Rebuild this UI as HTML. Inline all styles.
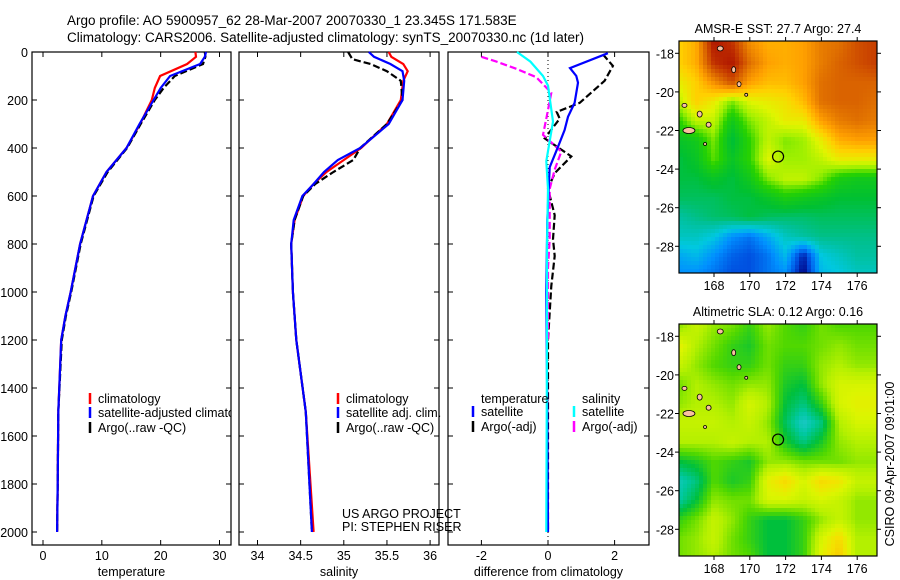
<!DOCTYPE html>
<html><head><meta charset="utf-8"><style>
body{margin:0;background:#fff;}
svg{display:block;font-family:"Liberation Sans",sans-serif;}
text{fill:#000;}
</style></head><body>
<svg id="fig" width="900" height="580" viewBox="0 0 900 580">
<defs><clipPath id="p1clip"><rect x="32" y="52" width="199" height="493"/></clipPath></defs>
<text x="67" y="25" font-size="13.5">Argo profile: AO 5900957_62 28-Mar-2007 20070330_1 23.345S 171.583E</text>
<text x="67" y="42" font-size="13.5">Climatology: CARS2006. Satellite-adjusted climatology: synTS_20070330.nc (1d later)</text>
<g id="g"></g>
</svg>
<script>
// ---- Data ----
const depthTicks=[0,200,400,600,800,1000,1200,1400,1600,1800,2000];
const tempTicks=[0,10,20,30];
const salTicks=[34,34.5,35,35.5,36];
const salTickLabels=["34","34.5","35","35.5","36"];
const diffTicks=[-2,0,2];
// temperature profiles
const tClimD=[0,20,50,100,150,200,300,400,500,600,800,1000,1100,1200,1500,1800,2000];
const tClimV=[25.9,26.0,24.5,19.9,19.0,18.5,16.5,14.2,10.8,8.5,6.3,4.7,3.8,3.1,2.6,2.5,2.4];
const tSatD=[0,20,50,100,150,200,300,400,500,600,800,1000,1100,1200,1500,1800,2000];
const tSatV=[27.7,27.5,26.7,21.6,20.0,18.8,16.4,14.2,10.8,8.5,6.3,4.7,3.8,3.1,2.6,2.5,2.4];
const tArgD=[0,20,50,100,150,200,300,400,500,600,800,1000,1100,1200,1500,1800,2000];
const tArgV=[27.5,27.6,27.2,22.4,20.5,19.0,16.6,14.3,11.0,8.6,6.4,4.8,3.9,3.2,2.6,2.5,2.4];
// salinity profiles
const sClimD=[0,20,50,80,120,200,300,400,450,500,550,600,700,800,1000,1200,1500,2000];
const sClimV=[35.52,35.55,35.69,35.74,35.69,35.66,35.5,35.2,35.0,34.8,34.65,34.53,34.43,34.39,34.41,34.45,34.56,34.65];
const sSatD=[0,20,50,80,120,200,300,400,450,500,550,600,700,800,1000,1200,1500,2000];
const sSatV=[35.29,35.35,35.54,35.68,35.7,35.68,35.52,35.19,34.93,34.77,34.65,34.52,34.42,34.39,34.41,34.45,34.56,34.63];
const sArgD=[0,30,50,80,120,200,300,400,450,500,550,600,700,800,1000,1200,1500,2000];
const sArgV=[35.05,35.1,35.31,35.5,35.66,35.68,35.5,35.19,35.11,34.88,34.67,34.53,34.43,34.39,34.41,34.45,34.56,34.63];
// differences
const dTSatD=[5,67,100,128,212,270,325,395,480,700,1000,1500,2000];
const dTSatV=[1.8,0.66,0.85,0.9,0.8,0.6,0.5,0.3,0.05,-0.02,-0.05,-0.02,0];
const dTArgD=[10,58,120,212,250,278,360,435,505,570,680,780,850,975,1200,1600,2000];
const dTArgV=[1.65,1.95,1.7,0.95,0.26,0.35,-0.1,0.7,0.2,0,0.2,0.15,0.2,0.1,0,0,0];
const dSSatD=[0,40,100,140,290,455,570,800,1200,2000];
const dSSatV=[-0.93,-0.53,-0.15,0,0.15,-0.05,0,-0.03,-0.03,-0.05];
const dSArgD=[20,40,70,105,170,278,345,415,490,570,780,900,1200];
const dSArgV=[-2,-1.55,-0.95,-0.35,0.1,-0.05,-0.15,0.4,0.2,0.05,0.05,0,0];
// map grids
const gridLats=[-17.5,-18.5,-19.5,-20.5,-21.5,-22.5,-23.5,-24.5,-25.5,-26.5,-27.5,-28.5,-29.4];
const gridLons=[166.1,167,168,169,170,171,172,173,174,175,176,177.1];
const sstGrid=[
[.65,.7,.95,.9,.75,.7,.7,.72,.78,.8,.85,.88],
[.65,.7,.9,.95,.8,.72,.7,.72,.78,.82,.85,.88],
[.6,.65,.75,.85,.72,.68,.68,.72,.8,.82,.82,.82],
[.55,.65,.6,.5,.58,.6,.62,.68,.8,.82,.82,.8],
[.45,.55,.55,.4,.5,.55,.6,.6,.72,.78,.8,.78],
[.38,.4,.5,.35,.45,.55,.5,.52,.6,.7,.72,.72],
[.35,.38,.48,.38,.45,.58,.52,.52,.55,.6,.6,.6],
[.35,.35,.38,.35,.4,.5,.55,.55,.5,.42,.4,.4],
[.33,.33,.33,.35,.35,.38,.42,.4,.38,.36,.36,.36],
[.28,.3,.32,.33,.35,.33,.32,.32,.33,.33,.33,.33],
[.25,.25,.22,.15,.12,.18,.25,.28,.3,.3,.3,.3],
[.18,.2,.15,.1,.08,.12,.2,.03,.22,.25,.28,.28],
[.15,.15,.12,.08,.08,.12,.15,0,.2,.22,.25,.25]];
const slaGrid=[
[.55,.65,.55,.5,.4,.55,.45,.4,.5,.45,.45,.45],
[.75,.6,.5,.4,.35,.5,.45,.45,.5,.55,.5,.5],
[.65,.55,.45,.4,.4,.5,.4,.4,.55,.6,.55,.55],
[.5,.6,.55,.5,.55,.55,.35,.3,.55,.7,.7,.7],
[.55,.6,.6,.55,.7,.6,.3,.2,.4,.7,.75,.75],
[.65,.65,.65,.6,.65,.55,.25,.05,.2,.6,.7,.7],
[.6,.6,.6,.65,.6,.6,.35,.2,.35,.55,.6,.6],
[.3,.35,.45,.4,.35,.55,.55,.5,.5,.5,.55,.55],
[.1,.2,.45,.35,.4,.75,.85,.7,.85,.8,.65,.65],
[.15,.3,.55,.5,.5,.7,.7,.65,.7,.65,.55,.55],
[.4,.5,.65,.55,.4,.3,.3,.4,.55,.65,.55,.55],
[.5,.55,.65,.5,.4,.3,.3,.4,.7,.85,.6,.6],
[.5,.55,.6,.5,.45,.3,.3,.4,.75,.9,.6,.6]];
const lonTicks=[168,170,172,174,176];
const latTicks=[-18,-20,-22,-24,-26,-28];
const argoPos=[171.58,-23.35];
const islands=[[168.35,-17.75,3,2.5],[169.1,-18.85,2,3],[169.4,-19.6,2,2.5],[169.8,-20.15,1.5,1.5],[167.2,-21.15,2.5,3],[167.7,-21.7,2.5,2.5],[166.6,-22.0,6,3],[166.35,-20.7,2.5,2],[167.5,-22.7,1.5,1.5]];

const NS="http://www.w3.org/2000/svg";
const G=document.getElementById('g');
function el(tag,attrs,parent){const e=document.createElementNS(NS,tag);for(const k in attrs)e.setAttribute(k,attrs[k]);(parent||G).appendChild(e);return e;}
const Y0=52,Y1=545;
const yD=d=>52+d*0.24;
const panels=[
 {x0:32,x1:231,sx:v=>43+(v-0)*5.883,name:'temperature-panel',label:'temperature',ticks:tempTicks,labels:tempTicks.map(String)},
 {x0:239,x1:439,sx:v=>257.5+(v-34)*86.3,name:'salinity-panel',label:'salinity',ticks:salTicks,labels:salTickLabels},
 {x0:448,x1:649,sx:v=>548+v*33.3,name:'difference-panel',label:'difference from climatology',ticks:diffTicks,labels:diffTicks.map(String)}];
panels.forEach((p,i)=>{
 const f=el('rect',{x:p.x0,y:Y0,width:p.x1-p.x0,height:Y1-Y0,fill:'none',stroke:'#000','stroke-width':1.2});
 
 
 p.ticks.forEach((t,j)=>{const x=p.sx(t);
  el('line',{x1:x,x2:x,y1:Y0,y2:Y0+5,stroke:'#000'});el('line',{x1:x,x2:x,y1:Y1,y2:Y1-5,stroke:'#000'});
  const tx=el('text',{x:x,y:560,'font-size':12.5,'text-anchor':'middle'});tx.textContent=p.labels[j];
  
  
 });
 const lb=el('text',{x:(p.x0+p.x1)/2,y:576,'font-size':12.5,'text-anchor':'middle'});lb.textContent=p.label;
 
 
 depthTicks.forEach(d=>{const y=yD(d);
  el('line',{x1:p.x0,x2:p.x0+5,y1:y,y2:y,stroke:'#000'});el('line',{x1:p.x1,x2:p.x1-5,y1:y,y2:y,stroke:'#000'});
  if(i===0){const t=el('text',{x:28,y:y+5,'font-size':12.5,'text-anchor':'end'});t.textContent=d;
   
   }
 });
});
function line(p,D,V,color,dash,name){
 const pts=D.map((d,k)=>p.sx(V[k]).toFixed(1)+','+yD(d).toFixed(1)).join(' ');
 const a={points:pts,fill:'none',stroke:color,'stroke-width':2.2};if(dash)a['stroke-dasharray']=dash;
 const e=el('polyline',a);
 
 
}
el('line',{x1:panels[2].sx(0),x2:panels[2].sx(0),y1:Y0,y2:Y1,stroke:'#000','stroke-dasharray':'1,3'});
line(panels[0],tClimD,tClimV,'#f00',null,'temp-climatology-line');
line(panels[0],tArgD,tArgV,'#000','7,3','temp-argo-line');
line(panels[0],tSatD,tSatV,'#00f',null,'temp-satellite-line');
line(panels[1],sClimD,sClimV,'#f00',null,'sal-climatology-line');
line(panels[1],sArgD,sArgV,'#000','7,3','sal-argo-line');
line(panels[1],sSatD,sSatV,'#00f',null,'sal-satellite-line');
line(panels[2],dTArgD,dTArgV,'#000','7,3','diff-temp-argo-line');
line(panels[2],dSArgD,dSArgV,'#f0f','7,3','diff-sal-argo-line');
line(panels[2],dTSatD,dTSatV,'#00f',null,'diff-temp-satellite-line');
line(panels[2],dSSatD,dSSatV,'#0ff',null,'diff-sal-satellite-line');
function legend(x,y,color,txt,name,clip){
 el('line',{x1:x,x2:x,y1:y-10,y2:y+1,stroke:color,'stroke-width':2.5});
 const t=el('text',{x:x+8,y:y,'font-size':12.5});t.textContent=txt;
 if(clip)t.setAttribute('clip-path','url(#p1clip)');
 
 
}
legend(90,403,'#f00','climatology','legend-climatology');
legend(90,417,'#00f','satellite-adjusted climatology','legend-satellite-adjusted',true);
legend(90,432,'#000','Argo(..raw -QC)','legend-argo');
legend(338,403,'#f00','climatology','legend-sal-climatology');
legend(338,417,'#00f','satellite adj. clim.','legend-sal-satellite');
legend(338,432,'#000','Argo(..raw -QC)','legend-sal-argo');
(function(){const t=el('text',{x:481,y:403,'font-size':12.5});t.textContent='temperature';
 
 
 const s=el('text',{x:582,y:403,'font-size':12.5});s.textContent='salinity';
 
 })();
legend(473,416,'#00f','satellite','legend-diff-temp-satellite');
legend(473,431,'#000','Argo(-adj)','legend-diff-temp-argo');
legend(574,416,'#0ff','satellite','legend-diff-sal-satellite');
legend(574,431,'#f0f','Argo(-adj)','legend-diff-sal-argo');
(function(){const a=el('text',{x:342,y:518,'font-size':12.5});a.textContent='US ARGO PROJECT';
 
 
 const b=el('text',{x:342,y:531,'font-size':12.5});b.textContent='PI: STEPHEN RISER';
 
 })();

// ---- Maps ----
function lerpC(stops,v){v=Math.max(0,Math.min(1,v));for(let i=1;i<stops.length;i++){if(v<=stops[i][0]){const a=stops[i-1],b=stops[i],t=(v-a[0])/(b[0]-a[0]);return 'rgb('+[0,1,2].map(k=>Math.round(a[1][k]+(b[1][k]-a[1][k])*t)).join(',')+')';}}return 'rgb('+stops[stops.length-1][1].join(',')+')';}
const sstStops=[[0,[0,0,128]],[.08,[0,80,224]],[.15,[0,144,255]],[.22,[0,200,224]],[.29,[0,192,150]],[.36,[0,192,50]],[.45,[40,210,0]],[.52,[160,240,0]],[.58,[224,245,0]],[.65,[255,208,0]],[.72,[255,160,0]],[.8,[224,112,0]],[.9,[192,48,0]],[1,[160,0,0]]];
const slaStops=[[0,[40,200,220]],[.15,[0,200,160]],[.3,[0,192,60]],[.45,[80,216,0]],[.6,[180,240,0]],[.72,[220,245,0]],[.82,[245,225,0]],[1,[248,176,0]]];
function interp(grid,lon,lat){
 let r=0;while(r<gridLats.length-2&&lat<gridLats[r+1])r++;
 let c=0;while(c<gridLons.length-2&&lon>gridLons[c+1])c++;
 const ty=Math.max(0,Math.min(1,(gridLats[r]-lat)/(gridLats[r]-gridLats[r+1])));
 const tx=Math.max(0,Math.min(1,(lon-gridLons[c])/(gridLons[c+1]-gridLons[c])));
 const a=grid[r][c]*(1-tx)+grid[r][c+1]*tx,b=grid[r+1][c]*(1-tx)+grid[r+1][c+1]*tx;return a*(1-ty)+b*ty;}
function drawMap(top,grid,stops,title,name){
 const x0=679,x1=877,y0=top,y1=top+232;
 const lonX=l=>714+(l-168)*17.9, latY=a=>top+12.3+(-18-a)*19.3;
 const xInv=x=>168+(x-714)/17.9, yInv=y=>-18-(y-top-12.3)/19.3;
 const g=el('g',{});
 
 
 const cs=4;
 for(let y=y0;y<y1;y+=cs)for(let x=x0;x<x1;x+=cs){
  const v=interp(grid,xInv(x+cs/2),yInv(y+cs/2));
  el('rect',{x:x,y:y,width:Math.min(cs,x1-x)+0.3,height:Math.min(cs,y1-y)+0.3,fill:lerpC(stops,v)},g);}
 islands.forEach(s=>el('ellipse',{cx:lonX(s[0]),cy:latY(s[1]),rx:s[2],ry:s[3],fill:'#f8c0a0',stroke:'#000','stroke-width':0.8},g));
 el('circle',{cx:lonX(argoPos[0]),cy:latY(argoPos[1]),r:5.5,fill:'none',stroke:'#000','stroke-width':1.2},g);
 el('rect',{x:x0,y:y0,width:x1-x0,height:y1-y0,fill:'none',stroke:'#000','stroke-width':1.2},g);
 lonTicks.forEach(l=>{const x=lonX(l);el('line',{x1:x,x2:x,y1:y0,y2:y0-4,stroke:'#000'},g);el('line',{x1:x,x2:x,y1:y1,y2:y1+4,stroke:'#000'},g);
  const t=el('text',{x:x,y:y1+17,'font-size':12.5,'text-anchor':'middle'},g);t.textContent=l;
  
  });
 latTicks.forEach(a=>{const y=latY(a);el('line',{x1:x0,x2:x0-4,y1:y,y2:y,stroke:'#000'},g);el('line',{x1:x1,x2:x1+4,y1:y,y2:y,stroke:'#000'},g);
  const t=el('text',{x:x0-5,y:y+5,'font-size':12.5,'text-anchor':'end'},g);t.textContent=a;
  
  });
 const t=el('text',{x:778,y:top-8,'font-size':12.5,'text-anchor':'middle'},g);t.textContent=title;
 
 
}
drawMap(41,sstGrid,sstStops,'AMSR-E SST: 27.7 Argo: 27.4','sst-map');
drawMap(324,slaGrid,slaStops,'Altimetric SLA: 0.12 Argo: 0.16','sla-map');
(function(){const t=el('text',{x:0,y:0,'font-size':12.5,'text-anchor':'middle',transform:'translate(894,464) rotate(-90)'});
 t.textContent='CSIRO 09-Apr-2007 09:01:00';
 
 })();
</script>
</body></html>
